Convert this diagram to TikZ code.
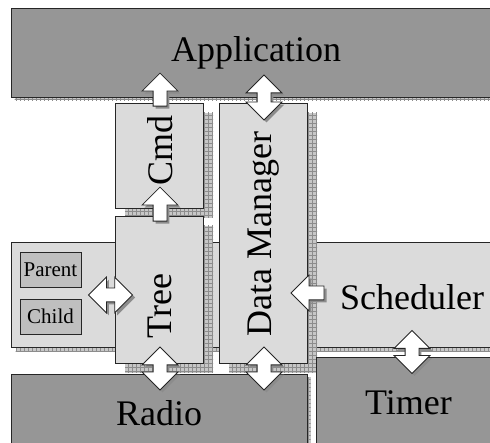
\documentclass[tikz,border=0pt]{standalone}
\usepackage{fontspec}
\setmainfont{Liberation Serif}
\usetikzlibrary{calc,patterns,shapes.arrows}

% grid for the box shadows
\pgfdeclarepatternformonly{shadowgrid}{\pgfqpoint{-1pt}{-1pt}}{\pgfqpoint{5pt}{5pt}}{\pgfqpoint{4pt}{4pt}}{
  \pgfsetlinewidth{0.5pt}
  \pgfpathmoveto{\pgfqpoint{0pt}{0pt}}\pgfpathlineto{\pgfqpoint{0pt}{4.1pt}}
  \pgfpathmoveto{\pgfqpoint{0pt}{0pt}}\pgfpathlineto{\pgfqpoint{4.1pt}{0pt}}
  \pgfusepath{stroke}}

\tikzset{
  box/.style={draw=black!85, line width=0.9pt, inner sep=0pt, font=\fontsize{36}{40}\selectfont},
  boxshadow/.style={preaction={fill=black!22, transform canvas={shift={(#1,-#1)}}},
                    preaction={pattern=shadowgrid, pattern color=black!45, transform canvas={shift={(#1,-#1)}}}},
  darkbox/.style={box, fill=black!41},
  lightbox/.style={box, fill=black!14},
  smallbox/.style={box, fill=black!25, font=\fontsize{21}{24}\selectfont},
  bigtext/.style={font=\fontsize{36}{40}\selectfont, inner sep=0pt},
  barrow/.style={draw=black!85, fill=white, line width=0.8pt, inner sep=6.5pt,
                 preaction={fill=black!45, transform canvas={shift={(2.5pt,-2.5pt)}}}},
  sarrow/.style={barrow, single arrow, single arrow head extend=11pt, minimum height=#1},
  darrow/.style={barrow, double arrow, double arrow head extend=11pt, minimum height=#1}
}

\begin{document}
\begin{tikzpicture}[x=1pt,y=1pt]
\useasboundingbox (0,0) rectangle (490,443);
\clip (0,0) rectangle (490,443);

% layers
\node[darkbox, boxshadow=3.5pt, minimum width=490, minimum height=89] (app) at (256,390.5) {Application};
\node[lightbox, boxshadow=4.5pt, minimum width=490, minimum height=105] (sched) at (256,148.5) {};
\node[lightbox, boxshadow=10pt, minimum width=88, minimum height=105] (cmd) at (159,287.5) {};
\node[lightbox, boxshadow=10pt, minimum width=88, minimum height=147] (tree) at (159,153.5) {};
\node[lightbox, boxshadow=10pt, minimum width=88, minimum height=260] (dm) at (263,210) {};
\node[smallbox, minimum width=61, minimum height=35] (parent) at (50.5,173.5) {Parent};
\node[smallbox, minimum width=61, minimum height=35] (child) at (50.5,126.5) {Child};
\node[darkbox, boxshadow=3.5pt, minimum width=296, minimum height=78] (radio) at (159,30) {Radio};
\node[darkbox, boxshadow=3.5pt, minimum width=185, minimum height=92] (timer) at (408.5,40) {Timer};

% labels
\node[bigtext, rotate=90] (cmdtxt) at (160,292) {Cmd};
\node[bigtext, rotate=90] (dmtxt) at (264,209) {Data Manager};
\node[bigtext, rotate=90] (treetxt) at (160,137) {Tree};
\node[bigtext] (schedtxt) at (412,146) {Scheduler};

% block arrows
\node[sarrow=33pt, shape border rotate=90, anchor=tail] (cmdapp) at ($(cmd.north)+(1,-4)$) {};
\node[darrow=45pt, shape border rotate=90] (dmapp) at ($(app.south -| dm.north)!0.5!(dm.north)+(1,2.5)$) {};
\node[sarrow=34pt, shape border rotate=90, anchor=tail] (treecmd) at ($(tree.north)+(1,-6)$) {};
\node[darrow=44pt] (treepc) at ($(tree.west)+(-4,-5.5)$) {};
\node[sarrow=33pt, shape border rotate=180, anchor=tip] (scheddm) at ($(dm.east |- sched)+(-17,1.5)$) {};
\node[darrow=43pt, shape border rotate=90] (treeradio) at ($(tree.south)!0.5!(radio.north)+(1,0)$) {};
\node[darrow=43pt, shape border rotate=90] (dmradio) at ($(dm.south)!0.5!(radio.north -| dm.south)+(1,0)$) {};
\node[darrow=43pt, shape border rotate=90] (schedtimer) at ($(sched.south -| schedtxt)!0.5!(timer.north -| schedtxt)$) {};

\end{tikzpicture}
\end{document}
